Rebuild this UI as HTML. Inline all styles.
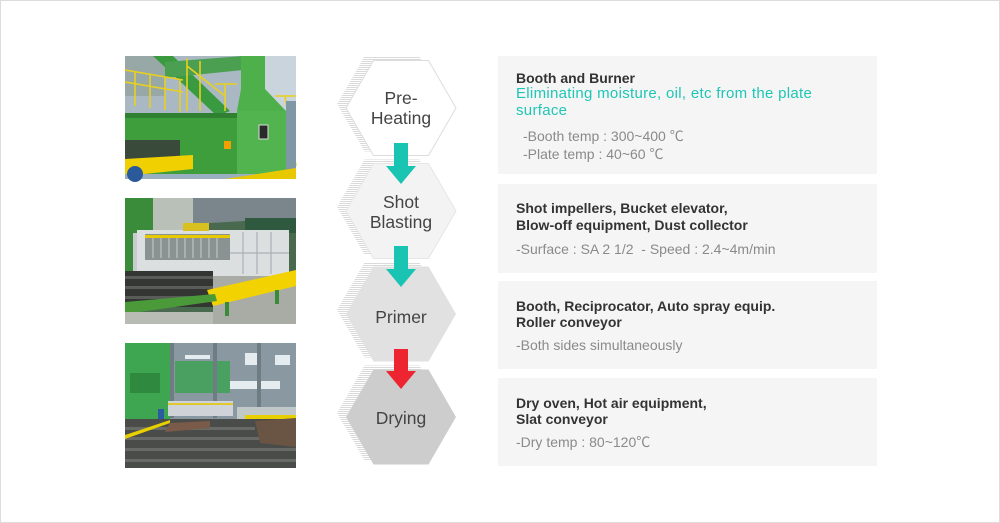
<!DOCTYPE html>
<html><head><meta charset="utf-8">
<style>
html,body{margin:0;padding:0;background:#fff;}
#page{position:relative;width:1000px;height:523px;overflow:hidden;background:#fff;box-sizing:border-box;border:1px solid #dcdcdc;}
.box{position:absolute;left:497px;width:379px;background:#f5f5f5;}
.t{position:absolute;white-space:pre;font-family:"Liberation Sans","NanumGothic","Noto Sans CJK KR",sans-serif;line-height:17px;}
.h{font-size:14px;font-weight:bold;color:#333;left:515px;}
.c{font-size:15px;color:#1ec6b5;left:515px;letter-spacing:0.3px;}
.g{font-size:14px;color:#8a8a8a;}
.hx{position:absolute;left:340px;width:120px;text-align:center;font-family:"Liberation Sans","NanumGothic",sans-serif;font-size:17.5px;line-height:20px;color:#444;}
svg{position:absolute;left:0;top:0;}
</style></head><body>
<div id="page">

<div class="box" style="top:55px;height:118px;"></div>
<div class="box" style="top:183px;height:89px;"></div>
<div class="box" style="top:280px;height:88px;"></div>
<div class="box" style="top:377px;height:88px;"></div>

<svg width="1000" height="523" viewBox="0 0 1000 523">
  <!-- image 1 -->
  <g transform="translate(124,55)">
    <rect width="171" height="123" fill="#a9b8c2"/>
    <rect x="125" y="0" width="46" height="60" fill="#c9d4dc"/>
    <rect x="0" y="0" width="40" height="40" fill="#98a8a6"/>
    <polygon points="28,0 48,0 105,55 92,60" fill="#3a9a40"/>
    <polygon points="40,6 118,0 118,14 40,22" fill="#4aa050"/>
    <g stroke="#e8d020" stroke-width="1.6" fill="none">
      <line x1="0" y1="14" x2="58" y2="24"/>
      <line x1="0" y1="26" x2="58" y2="36"/>
      <line x1="10" y1="16" x2="10" y2="50"/>
      <line x1="25" y1="18" x2="25" y2="52"/>
      <line x1="40" y1="21" x2="40" y2="54"/>
      <line x1="55" y1="24" x2="55" y2="56"/>
      <line x1="62" y1="2" x2="62" y2="55"/>
      <line x1="75" y1="5" x2="75" y2="55"/>
      <line x1="62" y1="10" x2="100" y2="40"/>
      <line x1="90" y1="28" x2="112" y2="28"/>
      <line x1="100" y1="28" x2="100" y2="55"/>
      <line x1="150" y1="40" x2="171" y2="40"/>
      <line x1="160" y1="40" x2="171" y2="110"/>
    </g>
    <polygon points="116,0 140,0 140,33 161,55 161,118 112,118 112,55 116,33" fill="#4db04a"/>
    <rect x="0" y="57" width="161" height="61" fill="#3f9e3c"/>
    <rect x="0" y="57" width="112" height="5" fill="#2f8030"/>
    <polygon points="112,55 161,55 161,118 112,118" fill="#52b44e"/>
    <rect x="0" y="84" width="55" height="20" fill="#3a4a3a"/>
    <rect x="134" y="69" width="9" height="14" fill="#2a2a2a" stroke="#dddddd" stroke-width="1"/>
    <rect x="99" y="85" width="7" height="8" fill="#f0a000"/>
    <rect x="161" y="45" width="10" height="78" fill="#7f98a6"/>
    <polygon points="0,103 68,99 68,113 0,120" fill="#f0d000"/>
    <rect x="0" y="118" width="171" height="5" fill="#9ab0c0"/>
    <polygon points="100,123 171,112 171,123" fill="#e8c800"/>
    <circle cx="10" cy="118" r="8" fill="#2a5a9a"/>
  </g>
  <!-- image 2 -->
  <g transform="translate(124,197)">
    <rect width="171" height="126" fill="#4a6a50"/>
    <rect x="28" y="0" width="45" height="34" fill="#b8c0b8"/>
    <polygon points="68,0 171,0 171,20 68,26" fill="#7a868c"/>
    <rect x="120" y="20" width="51" height="15" fill="#2f5a40"/>
    <rect x="0" y="0" width="28" height="80" fill="#3a8c3a"/>
    <rect x="12" y="32" width="152" height="46" fill="#dcdfe0"/>
    <rect x="20" y="36" width="85" height="26" fill="#8a9292"/>
    <g stroke="#c0c4c4" stroke-width="1.2">
      <line x1="28" y1="40" x2="28" y2="60"/><line x1="36" y1="40" x2="36" y2="60"/>
      <line x1="44" y1="40" x2="44" y2="60"/><line x1="52" y1="40" x2="52" y2="60"/>
      <line x1="60" y1="40" x2="60" y2="60"/><line x1="68" y1="40" x2="68" y2="60"/>
      <line x1="76" y1="40" x2="76" y2="60"/><line x1="84" y1="40" x2="84" y2="60"/>
      <line x1="92" y1="40" x2="92" y2="60"/>
    </g>
    <g stroke="#aab0b4" stroke-width="1.2">
      <line x1="118" y1="34" x2="118" y2="76"/><line x1="132" y1="34" x2="132" y2="76"/>
      <line x1="146" y1="34" x2="146" y2="76"/><line x1="105" y1="55" x2="164" y2="55"/>
    </g>
    <rect x="20" y="37" width="85" height="3" fill="#e8c800"/>
    <rect x="58" y="25" width="26" height="8" fill="#d8c020"/>
    <rect x="8" y="35" width="4" height="42" fill="#c8ccd0"/>
    <rect x="0" y="73" width="88" height="36" fill="#333633"/>
    <g fill="#5a5c5a">
      <rect x="0" y="78" width="88" height="3"/><rect x="0" y="88" width="88" height="3"/><rect x="0" y="98" width="88" height="3"/>
    </g>
    <rect x="88" y="78" width="83" height="48" fill="#a8aca4"/>
    <polygon points="82,92 171,72 171,88 88,108" fill="#f2d200"/>
    <polygon points="0,104 90,96 92,103 0,116" fill="#4a9a3a"/>
    <rect x="0" y="114" width="88" height="12" fill="#b8bcb4"/>
    <rect x="100" y="104" width="4" height="14" fill="#3a8a3a"/>
    <rect x="150" y="92" width="4" height="14" fill="#3a8a3a"/>
  </g>
  <!-- image 3 -->
  <g transform="translate(124,342)">
    <rect width="171" height="125" fill="#8a98a2"/>
    <g fill="#e4ecf0">
      <rect x="20" y="12" width="20" height="5"/><rect x="60" y="12" width="25" height="4"/>
      <rect x="120" y="10" width="15" height="12"/><rect x="150" y="12" width="15" height="10"/>
      <rect x="95" y="38" width="60" height="8"/>
    </g>
    <rect x="0" y="0" width="45" height="82" fill="#3ea550"/>
    <rect x="5" y="30" width="30" height="20" fill="#2f8a40"/>
    <rect x="50" y="18" width="55" height="32" fill="#4aa060"/>
    <rect x="45" y="0" width="4" height="75" fill="#707c84"/>
    <rect x="88" y="0" width="4" height="75" fill="#707c84"/>
    <rect x="132" y="0" width="4" height="75" fill="#707c84"/>
    <rect x="43" y="58" width="65" height="15" fill="#d0d4d8"/>
    <rect x="43" y="60" width="65" height="2" fill="#e0c830"/>
    <rect x="112" y="64" width="59" height="12" fill="#c0c8c8"/>
    <rect x="120" y="72" width="51" height="4" fill="#e8d000"/>
    <rect x="0" y="76" width="171" height="49" fill="#4a4c4a"/>
    <g fill="#686a68">
      <rect x="0" y="84" width="130" height="3"/><rect x="0" y="94" width="150" height="3"/>
      <rect x="0" y="105" width="171" height="3"/><rect x="0" y="116" width="171" height="3"/>
    </g>
    <polygon points="130,78 171,75 171,104 135,100" fill="#6a5444"/>
    <polygon points="0,92 45,77 45,80 0,96" fill="#e8d000"/>
    <polygon points="45,80 85,78 85,85 40,89" fill="#7a5a48"/>
    <rect x="33" y="66" width="6" height="10" fill="#2a5aa0"/>
  </g>

  <defs>
    <pattern id="hatch" width="4" height="2" patternUnits="userSpaceOnUse">
      <rect width="4" height="2" fill="#ffffff"/>
      <rect width="4" height="1" fill="#dadada"/>
    </pattern>
  </defs>
  <polygon points="336,103 363.5,55.5 418.5,55.5 446,103 418.5,150.5 363.5,150.5" fill="url(#hatch)"/>
  <polygon points="345,107 372.5,59.5 427.5,59.5 455,107 427.5,154.5 372.5,154.5" fill="#ffffff" stroke="#dddddd" stroke-width="1"/>
  <polygon points="336,206 363.5,158.5 418.5,158.5 446,206 418.5,253.5 363.5,253.5" fill="url(#hatch)"/>
  <polygon points="345,210 372.5,162.5 427.5,162.5 455,210 427.5,257.5 372.5,257.5" fill="#f3f3f3" stroke="#e6e6e6" stroke-width="1"/>
  <polygon points="336,309 363.5,261.5 418.5,261.5 446,309 418.5,356.5 363.5,356.5" fill="url(#hatch)"/>
  <polygon points="345,313 372.5,265.5 427.5,265.5 455,313 427.5,360.5 372.5,360.5" fill="#e1e1e1"/>
  <polygon points="336,412 363.5,364.5 418.5,364.5 446,412 418.5,459.5 363.5,459.5" fill="url(#hatch)"/>
  <polygon points="345,416 372.5,368.5 427.5,368.5 455,416 427.5,463.5 372.5,463.5" fill="#cdcdcd"/>

  <rect x="393" y="142" width="14" height="24" fill="#19c4b3"/>
  <polygon points="385,165 415,165 400,183" fill="#19c4b3"/>
  <rect x="393" y="245" width="14" height="24" fill="#19c4b3"/>
  <polygon points="385,268 415,268 400,286" fill="#19c4b3"/>
  <rect x="393" y="348" width="14" height="23" fill="#ec2530"/>
  <polygon points="385,370 415,370 400,388" fill="#ec2530"/>
</svg>

<div class="hx" style="top:87px;">Pre-<br>Heating</div>
<div class="hx" style="top:191px;">Shot<br>Blasting</div>
<div class="hx" style="top:306px;">Primer</div>
<div class="hx" style="top:407px;">Drying</div>

<div class="t h" style="top:68.6px;">Booth and Burner</div>
<div class="t c" style="top:84.3px;">Eliminating moisture, oil, etc from the plate</div>
<div class="t c" style="top:101.3px;">surface</div>
<div class="t g" style="top:126.6px;left:522px;">-Booth temp : 300~400 ℃</div>
<div class="t g" style="top:144.6px;left:522px;">-Plate temp : 40~60 ℃</div>

<div class="t h" style="top:198.6px;">Shot impellers, Bucket elevator,</div>
<div class="t h" style="top:215.6px;">Blow-off equipment, Dust collector</div>
<div class="t g" style="top:239.6px;left:515px;">-Surface : SA 2 1/2  - Speed : 2.4~4m/min</div>

<div class="t h" style="top:296.6px;">Booth, Reciprocator, Auto spray equip.</div>
<div class="t h" style="top:312.6px;">Roller conveyor</div>
<div class="t g" style="top:335.6px;left:515px;">-Both sides simultaneously</div>

<div class="t h" style="top:393.6px;">Dry oven, Hot air equipment,</div>
<div class="t h" style="top:409.6px;">Slat conveyor</div>
<div class="t g" style="top:432.6px;left:515px;">-Dry temp : 80~120℃</div>

</div>
</body></html>
